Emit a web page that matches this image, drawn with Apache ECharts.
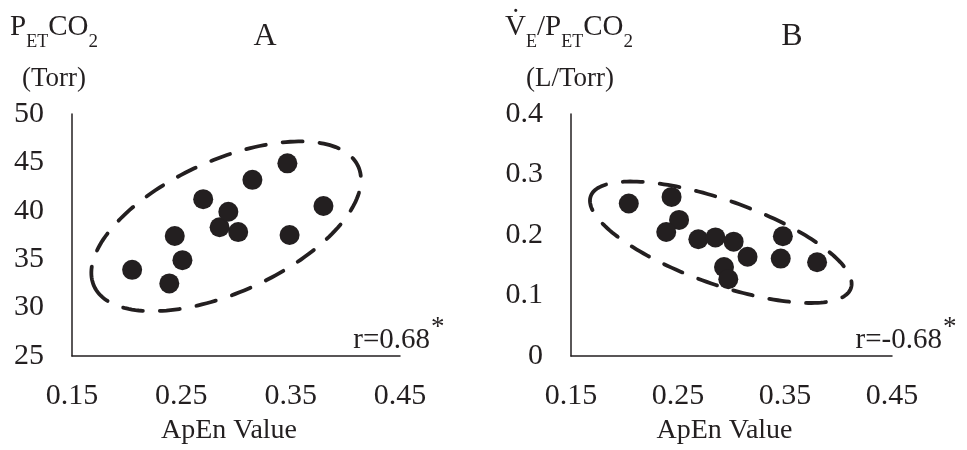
<!DOCTYPE html>
<html><head><meta charset="utf-8">
<script src="https://cdn.jsdelivr.net/npm/echarts@6/dist/echarts.min.js"></script>
<style>html,body{margin:0;padding:0;background:#fff}#c{width:967px;height:450px}</style>
</head><body><div id="c"></div>
<script>
// ---- data ----
const apenA   = [0.205, 0.239, 0.244, 0.251, 0.270, 0.285, 0.293, 0.302, 0.315, 0.347, 0.349, 0.380];
const petco2A = [33.9, 32.5, 37.4, 34.9, 41.2, 38.3, 39.9, 37.8, 43.2, 44.9, 37.5, 40.5];
const apenB   = [0.204, 0.244, 0.251, 0.239, 0.269, 0.285, 0.302, 0.315, 0.293, 0.297, 0.348, 0.346, 0.380];
const vePetB  = [0.252, 0.263, 0.225, 0.205, 0.193, 0.196, 0.189, 0.164, 0.147, 0.127, 0.198, 0.161, 0.155];
const xTickLabels = ['0.15', '0.25', '0.35', '0.45'];
const rTextA = 'r=0.68';
const rTextB = 'r=-0.68';
// ellipse annotations: centre in data units
const ellipseCentreA = [0.291, 38.4];
const ellipseCentreB = [0.290, 0.188];

// ---- styling / layout ----
const C = '#231f20';
const FONT = '"Liberation Serif","Times New Roman",serif';
const ellStyleA = {rx: 145, ry: 66, angle: 24.4};
const ellStyleB = {rx: 138, ry: 42, angle: -19.5};

const mctx = document.createElement('canvas').getContext('2d');
function tw(t, s) { mctx.font = s + 'px ' + FONT; return mctx.measureText(t).width; }
function runText(parts, ax, align, baseline) {
  const ws = parts.map(p => tw(p[0], p[1]));
  const total = ws.reduce((a, b) => a + b, 0);
  let x = align === 'center' ? ax - total / 2 : align === 'right' ? ax - total : ax;
  return parts.map((p, i) => {
    const el = {
      type: 'text', x: x, y: baseline + (p[2] || 0) - 0.3375 * p[1], silent: true,
      style: {text: p[0], font: p[1] + 'px ' + FONT, fill: C,
        align: 'left', textAlign: 'left', verticalAlign: 'middle', textVerticalAlign: 'middle'}
    };
    x += ws[i];
    return el;
  });
}

function ellipseSeries(idx, centre, st) {
  return {
    type: 'custom', xAxisIndex: idx, yAxisIndex: idx, silent: true, clip: false, z: 1,
    data: [centre],
    renderItem: function (params, api) {
      const c = api.coord([api.value(0), api.value(1)]);
      const th = st.angle * Math.PI / 180;
      const pts = [];
      const N = 180;
      for (let i = 0; i <= N; i++) {
        const t = Math.PI - i / N * 2 * Math.PI;
        const x = st.rx * Math.cos(t), y = st.ry * Math.sin(t);
        const X = x * Math.cos(th) - y * Math.sin(th);
        const Y = x * Math.sin(th) + y * Math.cos(th);
        pts.push([c[0] + X, c[1] - Y]);
      }
      return {type: 'polyline', shape: {points: pts},
        style: {fill: null, stroke: C, lineWidth: 3.8, lineDash: [20, 17], lineCap: 'round'}};
    }
  };
}

function xAxisCfg(idx) {
  return {
    type: 'value', gridIndex: idx, min: 0.15, max: 0.45, interval: 0.05,
    axisLine: {show: true, lineStyle: {color: C, width: 1.5}},
    axisTick: {show: false}, splitLine: {show: false},
    axisLabel: {margin: 25, fontFamily: FONT, fontSize: 30, color: C,
      formatter: v => { const s = Number(v).toFixed(2); return xTickLabels.includes(s) ? s : ''; }},
    name: 'ApEn Value', nameLocation: 'middle', nameGap: 61,
    nameTextStyle: {fontFamily: FONT, fontSize: 28, color: C, padding: [0, 14, 0, 0]}
  };
}
function yAxisCfg(idx, min, max, interval) {
  return {
    type: 'value', gridIndex: idx, min: min, max: max, interval: interval,
    axisLine: {show: true, lineStyle: {color: C, width: 1.5}},
    axisTick: {show: false}, splitLine: {show: false},
    axisLabel: {margin: 28, fontFamily: FONT, fontSize: 30, color: C}
  };
}

const graphics = [].concat(
  runText([['P', 29], ['ET', 18, 11], ['CO', 29], ['2', 19, 11]], 54, 'center', 37),
  runText([['(Torr)', 27]], 54, 'center', 88),
  runText([['V\u0307', 29], ['E', 18, 11], ['/P', 29], ['ET', 18, 11], ['CO', 29], ['2', 19, 11]], 569, 'center', 37),
  runText([['(L/Torr)', 27]], 570, 'center', 88),
  runText([['A', 32]], 265, 'center', 47),
  runText([['B', 32]], 792, 'center', 47),
  runText([[rTextA, 29]], 430, 'right', 350),
  runText([['*', 27]], 431, 'left', 337),
  runText([[rTextB, 29]], 942, 'right', 350),
  runText([['*', 27]], 943, 'left', 337)
);

const chart = echarts.init(document.getElementById('c'), null, {renderer: 'canvas'});
chart.setOption({
  animation: false,
  backgroundColor: '#fff',
  grid: [
    {left: 72, top: 114, width: 328, height: 243},
    {left: 571, top: 114, width: 321, height: 243}
  ],
  xAxis: [xAxisCfg(0), xAxisCfg(1)],
  yAxis: [yAxisCfg(0, 25, 50, 5), yAxisCfg(1, 0, 0.4, 0.1)],
  series: [
    ellipseSeries(0, ellipseCentreA, ellStyleA),
    ellipseSeries(1, ellipseCentreB, ellStyleB),
    {type: 'scatter', xAxisIndex: 0, yAxisIndex: 0, symbolSize: 20, z: 3,
      itemStyle: {color: C, opacity: 1}, data: apenA.map((x, i) => [x, petco2A[i]])},
    {type: 'scatter', xAxisIndex: 1, yAxisIndex: 1, symbolSize: 20, z: 3,
      itemStyle: {color: C, opacity: 1}, data: apenB.map((x, i) => [x, vePetB[i]])}
  ],
  graphic: graphics
});
</script>
</body></html>
